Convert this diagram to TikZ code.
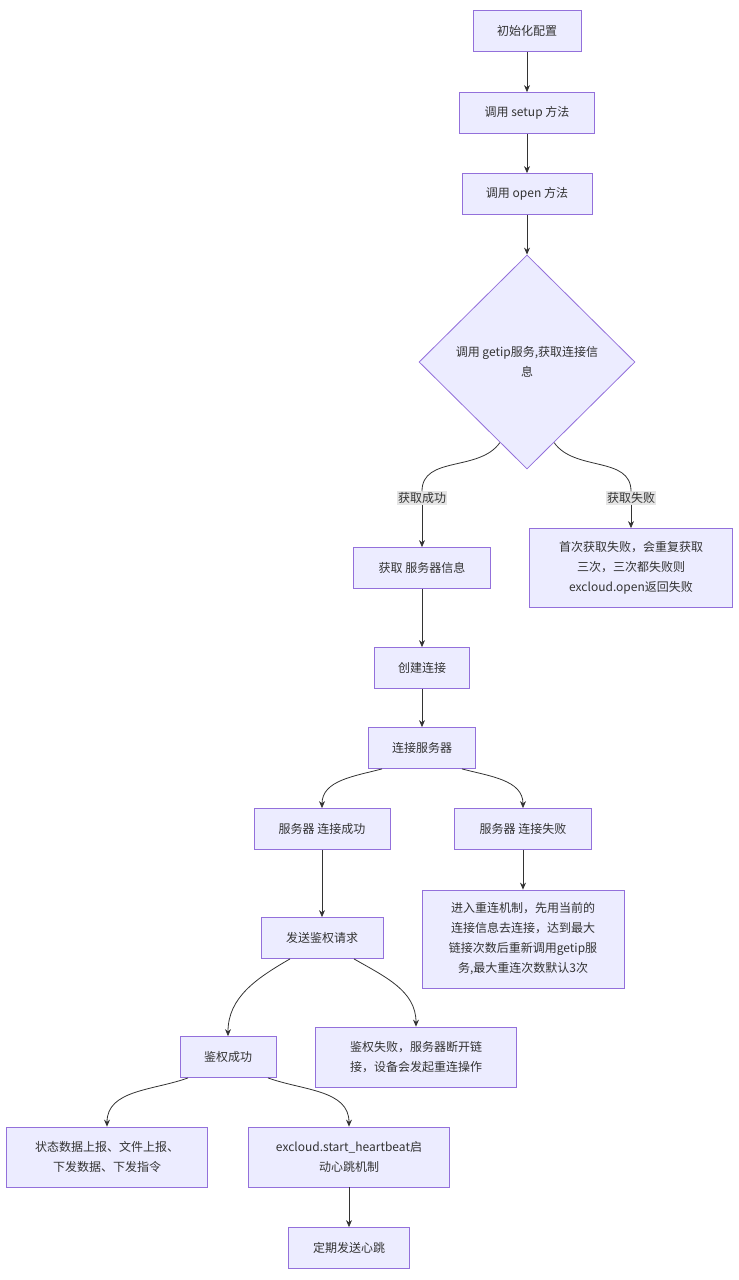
\documentclass[tikz,border=0pt]{standalone}
\usepackage{fontspec}
\setmainfont{Noto Sans CJK SC}
\usetikzlibrary{shapes.geometric,arrows.meta}
\definecolor{boxfill}{HTML}{ECECFF}
\definecolor{boxline}{HTML}{9370DB}
\definecolor{txt}{HTML}{333333}
\begin{document}
\begin{tikzpicture}[x=1pt,y=-1pt]

	\tikzset{
		box/.style={draw=boxline,fill=boxfill,line width=0.8pt,text=txt,inner sep=4pt,minimum height=41pt,align=center,font=\fontsize{12}{20}\selectfont},
		check/.style={box,diamond,minimum width=216pt,minimum height=214pt,inner sep=0pt},
		arr/.style={draw=txt,line width=0.8pt,-{Stealth[length=7pt,width=6pt]}},
		tag/.style={fill=black!10,text=txt,inner sep=1pt,font=\fontsize{12}{14}\selectfont}
	}
	\useasboundingbox (0,0) rectangle (739,1280);

	\node[box,minimum width=108pt] (init) at (527,31) {初始化配置};
	\node[box,minimum width=135pt] (setup) at (527,113) {调用 setup 方法};
	\node[box,minimum width=130pt] (open) at (527,194) {调用 open 方法};
	\node[check] (getip) at (527,362) {调用 getip服务,获取连接信\\息};

	\node[tag] (ok) at (422,498) {获取成功};
	\node[tag] (fail) at (631,498) {获取失败};

	\node[box,minimum width=137pt] (info) at (422,568) {获取 服务器信息};
	\node[box,minimum width=203pt,minimum height=79pt] (retry) at (631,568) {首次获取失败，会重复获取\\三次，三次都失败则\\excloud.open返回失败};
	\node[box,minimum width=95pt] (create) at (422,668) {创建连接};
	\node[box,minimum width=107pt] (conn) at (422,748) {连接服务器};
	\node[box,minimum width=136pt] (connok) at (322,829) {服务器 连接成功};
	\node[box,minimum width=137pt] (connfail) at (523,829) {服务器 连接失败};
	\node[box,minimum width=122pt] (auth) at (322,938) {发送鉴权请求};
	\node[box,minimum width=202pt,minimum height=98pt] (reconn) at (523,939) {进入重连机制，先用当前的\\连接信息去连接，达到最大\\链接次数后重新调用getip服\\务,最大重连次数默认3次};
	\node[box,minimum width=96pt] (authok) at (228,1057) {鉴权成功};
	\node[box,minimum width=201pt,minimum height=60pt] (authfail) at (416,1057) {鉴权失败，服务器断开链\\接，设备会发起重连操作};
	\node[box,minimum width=201pt,minimum height=60pt] (report) at (107,1157) {状态数据上报、文件上报、\\下发数据、下发指令};
	\node[box,minimum width=201pt,minimum height=60pt] (beat) at (349,1157) {excloud.start\_heartbeat启\\动心跳机制};
	\node[box,minimum width=121pt] (tick) at (349,1248) {定期发送心跳};

	\draw[arr] (init) -- (setup);
	\draw[arr] (setup) -- (open);
	\draw[arr] (open) -- (getip);
	\draw[draw=txt,line width=0.8pt] (getip.south west) ++(27,27) to[out=-125,in=90] (ok.north);
	\draw[arr] (ok) -- (info);
	\draw[draw=txt,line width=0.8pt] (getip.south east) ++(-27,27) to[out=-55,in=90] (fail.north);
	\draw[arr] (fail) -- (retry);
	\draw[arr] (info) -- (create);
	\draw[arr] (create) -- (conn);
	\draw[arr] ([xshift=-40pt]conn.south) to[out=195,in=90] (connok);
	\draw[arr] ([xshift=40pt]conn.south) to[out=-15,in=90] (connfail);
	\draw[arr] (connok) -- (auth);
	\draw[arr] (connfail) -- (reconn);
	\draw[arr] ([xshift=-32pt]auth.south) to[out=210,in=90] (authok);
	\draw[arr] ([xshift=32pt]auth.south) to[out=-30,in=90] (authfail);
	\draw[arr] ([xshift=-40pt]authok.south) to[out=200,in=90] (report);
	\draw[arr] ([xshift=40pt]authok.south) to[out=-20,in=90] (beat);
	\draw[arr] (beat) -- (tick);

\end{tikzpicture}
\end{document}
